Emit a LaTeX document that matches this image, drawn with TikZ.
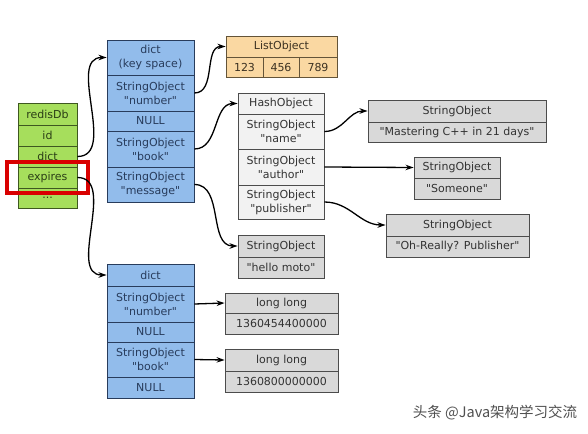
\documentclass[tikz,border=0pt]{standalone}
\usepackage{fontspec}
\setmainfont{DejaVu Sans}
\newfontfamily\boxfont{DejaVu Sans}
\newfontfamily\cjkfont{Noto Sans CJK SC}
\usetikzlibrary{arrows.meta}
\definecolor{dbgreen}{RGB}{166,222,92}
\definecolor{dbgreenline}{RGB}{62,88,32}
\definecolor{dictblue}{RGB}{146,188,235}
\definecolor{dictblueline}{RGB}{40,60,92}
\definecolor{listorange}{RGB}{250,216,162}
\definecolor{listline}{RGB}{100,84,56}
\definecolor{objgray}{RGB}{217,217,217}
\definecolor{hashwhite}{RGB}{242,242,242}
\definecolor{wmgray}{RGB}{80,80,80}
\newcommand\qt[1]{"#1"}

\begin{document}
\begin{tikzpicture}[x=1pt,y=-1pt]
\tikzset{cell/.style={draw, inner sep=0pt, align=center, line width=0.9pt,
    font=\boxfont\fontsize{11}{14}\selectfont},
  dbcell/.style={cell, fill=dbgreen, draw=dbgreenline, text=dbgreenline!70!black,
    minimum width=59pt},
  dictcell/.style={cell, fill=dictblue, draw=dictblueline, text=dictblueline,
    minimum width=87pt},
  listcell/.style={cell, fill=listorange, draw=listline, text=listline!60!black},
  objcell/.style={cell, fill=objgray, draw=black!70, text=black!80},
  hashcell/.style={cell, fill=hashwhite, draw=black!70, text=black!80,
    minimum width=86pt},
  link/.style={-{Stealth[length=8pt,width=5.5pt]}, line width=1.3pt}}
\useasboundingbox (0,0) rectangle (588,433);
\fill[white] (0,0) rectangle (588,433);
% redisDb
\node[dbcell, minimum height=22pt] (db) at (47.5,114) {redisDb};
\node[dbcell, minimum height=21pt] (dbid) at (47.5,135.5) {id};
\node[dbcell, minimum height=21pt] (dbdict) at (47.5,156.5) {dict};
\node[dbcell, minimum height=21pt] (dbexp) at (47.5,177.5) {expires};
\node[dbcell, minimum height=20pt] (dbmore) at (47.5,198) {...};
\draw[red!85!black, line width=3.5pt] (7,162) rectangle (88,193);
% key space
\node[dictcell, minimum height=35pt] (ks) at (150.5,57.5) {dict\\(key space)};
\node[dictcell, minimum height=36pt] (ksnum) at (150.5,93) {StringObject\\\qt{number}};
\node[dictcell, minimum height=20pt] (ksnull) at (150.5,121) {NULL};
\node[dictcell, minimum height=36pt] (ksbook) at (150.5,149) {StringObject\\\qt{book}};
\node[dictcell, minimum height=35pt] (ksmsg) at (150.5,184.5) {StringObject\\\qt{message}};
% list
\node[listcell, minimum width=111pt, minimum height=21pt] (lst) at (281.5,46.5) {ListObject};
\node[listcell, minimum width=37pt, minimum height=20pt] (lsta) at (244.5,67) {123};
\node[listcell, minimum width=36pt, minimum height=20pt] (lstb) at (281,67) {456};
\node[listcell, minimum width=38pt, minimum height=20pt] (lstc) at (318,67) {789};
% hash
\node[hashcell, minimum height=21pt] (hs) at (281,103.5) {HashObject};
\node[hashcell, minimum height=35pt] (hsname) at (281,131.5) {StringObject\\\qt{name}};
\node[hashcell, minimum height=36pt] (hsauth) at (281,167) {StringObject\\\qt{author}};
\node[hashcell, minimum height=34pt] (hspub) at (281,202) {StringObject\\\qt{publisher}};
% string objects
\node[objcell, minimum width=86pt, minimum height=22pt] (hello) at (281,246) {StringObject};
\node[objcell, minimum width=86pt, minimum height=21pt] (hellov) at (281,267.5) {\qt{hello moto}};
\node[objcell, minimum width=178pt, minimum height=22pt] (mast) at (457,111) {StringObject};
\node[objcell, minimum width=178pt, minimum height=20pt] (mastv) at (457,132) {\qt{Mastering C++ in 21 days}};
\node[objcell, minimum width=86pt, minimum height=21pt] (some) at (457,167.5) {StringObject};
\node[objcell, minimum width=86pt, minimum height=21pt] (somev) at (457,188.5) {\qt{Someone}};
\node[objcell, minimum width=143pt, minimum height=22pt] (oh) at (457.5,225) {StringObject};
\node[objcell, minimum width=143pt, minimum height=21pt] (ohv) at (457.5,246.5) {\qt{Oh-Really? Publisher}};
% expires dict
\node[dictcell, minimum height=22pt] (ex) at (150.5,275) {dict};
\node[dictcell, minimum height=36pt] (exnum) at (150.5,304) {StringObject\\\qt{number}};
\node[dictcell, minimum height=20pt] (exnull) at (150.5,332) {NULL};
\node[dictcell, minimum height=35pt] (exbook) at (150.5,359.5) {StringObject\\\qt{book}};
\node[dictcell, minimum height=21pt] (exnullb) at (150.5,387.5) {NULL};
\node[objcell, minimum width=113pt, minimum height=20pt] (llone) at (281.5,303) {long long};
\node[objcell, minimum width=113pt, minimum height=21pt] (llonev) at (281.5,323.5) {1360454400000};
\node[objcell, minimum width=113pt, minimum height=22pt] (lltwo) at (281.5,360) {long long};
\node[objcell, minimum width=113pt, minimum height=21pt] (lltwov) at (281.5,381.5) {1360800000000};
% links
\draw[link] (dbdict.east) to[out=0,in=180] (ks.west);
\draw[link] (dbexp.east) to[out=0,in=180] (ex.west);
\draw[link] (ksnum.east) to[out=0,in=180] (lst.west);
\draw[link] (ksbook.east) to[out=0,in=180] (hs.west);
\draw[link] (ksmsg.east) to[out=0,in=180] (hello.west);
\draw[link] (hsname.east) to[out=0,in=180] (mast.west);
\draw[link] (hsauth.east) -- (some.west);
\draw[link] (hspub.east) to[out=0,in=180] (oh.west);
\draw[link] (exnum.east) -- (llone.west);
\draw[link] (exbook.east) -- (lltwo.west);
% watermark
\node[text=wmgray, font=\fontsize{14.5}{15}\selectfont] (wm) at (495,413) {\cjkfont 头条 @Java架构学习交流};
\end{tikzpicture}
\end{document}
